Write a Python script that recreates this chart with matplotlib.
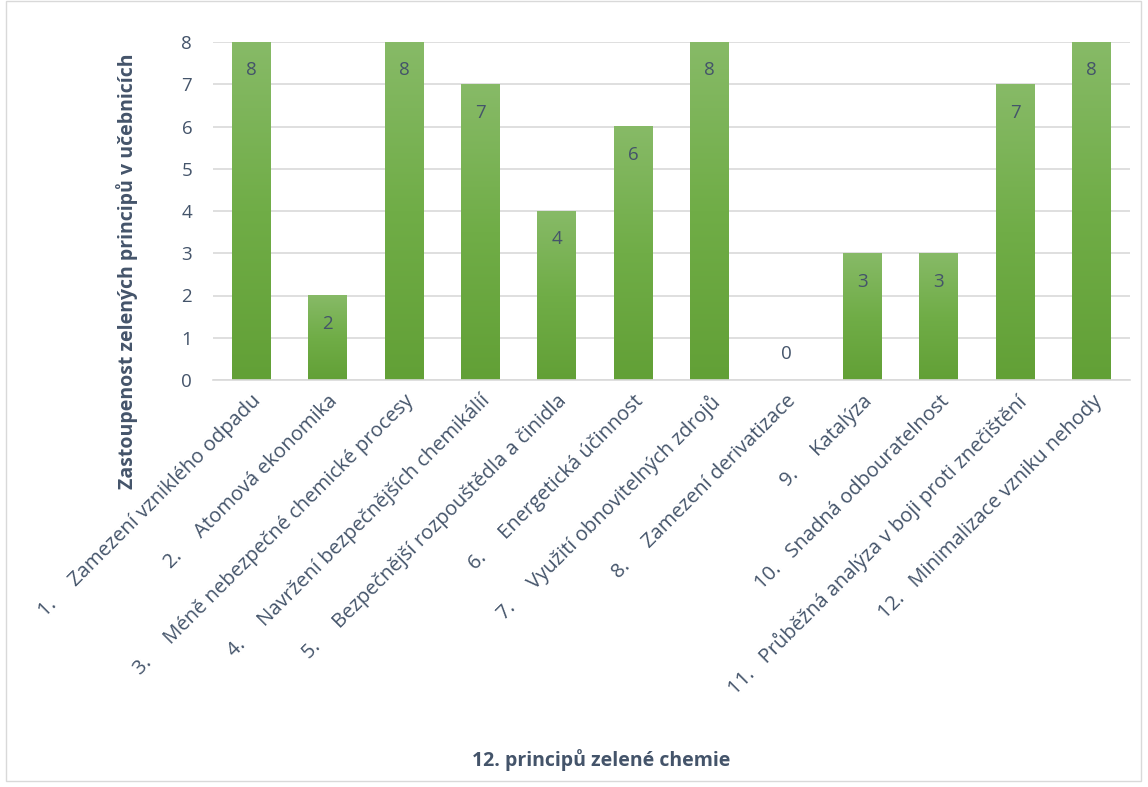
import numpy as np
import matplotlib.pyplot as plt
from matplotlib.patches import Rectangle
from matplotlib.colors import LinearSegmentedColormap

plt.rcParams['font.family'] = ['Open Sans', 'DejaVu Sans']

labels = ["1.     Zamezení vzniklého odpadu",
          "2.     Atomová ekonomika",
          "3.     Méně nebezpečné chemické procesy",
          "4.     Navržení bezpečnějších chemikálií",
          "5.     Bezpečnější rozpouštědla a činidla",
          "6.     Energetická účinnost",
          "7.     Využití obnovitelných zdrojů",
          "8.     Zamezení derivatizace",
          "9.     Katalýza",
          "10.   Snadná odbouratelnost",
          "11.   Průběžná analýza v boji proti znečištění",
          "12.   Minimalizace vzniku nehody"]
values = [8, 2, 8, 7, 4, 6, 8, 0, 3, 3, 7, 8]

txt = '#44546A'
W, H = 1148, 787
fig = plt.figure(figsize=(W/100, H/100), dpi=100)
ax = fig.add_axes([213/W, 1-380/H, (1130-213)/W, (380-42)/H])

x = np.arange(len(values))
bw = 0.51
bars = ax.bar(x, values, width=bw, color='none', zorder=2)
# gradient fill per bar, darker at the bottom
cmap = LinearSegmentedColormap.from_list('g', ['#62A036', '#70AD47', '#87BA67'])
grad = np.linspace(0, 1, 256).reshape(-1, 1)
for b, v in zip(bars, values):
    if v > 0:
        ax.imshow(grad, cmap=cmap, origin='lower', aspect='auto', zorder=2,
                  extent=[b.get_x(), b.get_x()+bw, 0, v])
        ax.annotate(str(v), (b.get_x()+bw/2, v), xytext=(0, -14), textcoords='offset points',
                    ha='center', va='top', fontsize=13.5, color=txt)
    else:
        ax.annotate(str(v), (b.get_x()+bw/2, v), xytext=(0, 12), textcoords='offset points',
                    ha='center', va='bottom', fontsize=13.5, color=txt)

ax.set_xlim(-0.5, len(values)-0.5)
ax.set_ylim(0, 8)
ax.set_yticks(range(0, 9))
ax.yaxis.grid(True, color='#D9D9D9', lw=1.2, zorder=0)
ax.set_axisbelow(True)
for s in ['top', 'right', 'left']:
    ax.spines[s].set_visible(False)
ax.spines['bottom'].set_color('#D9D9D9')
ax.spines['bottom'].set_linewidth(1.2)
ax.tick_params(axis='y', length=0, labelsize=13.5, labelcolor=txt, pad=15)
ax.tick_params(axis='x', length=0, pad=8)
ax.set_xticks(x)
ax.set_xticklabels(labels, rotation=45, ha='right', rotation_mode='anchor',
                   fontsize=14.5, color=txt)

fig.text(127/W, 1-271/H, 'Zastoupenost zelených principů v učebnicích', rotation=90,
         ha='center', va='center', fontsize=14, fontweight='bold', color=txt)
fig.text(601/W, 1-760/H, '12. principů zelené chemie', ha='center', va='center',
         fontsize=14, fontweight='bold', color=txt)

fig.patches.append(Rectangle((6/W, 1-781/H), (1141-6)/W, (781-1)/H, transform=fig.transFigure,
                             fill=False, edgecolor='#D9D9D9', lw=1))
fig.savefig('out.png', dpi=100)
